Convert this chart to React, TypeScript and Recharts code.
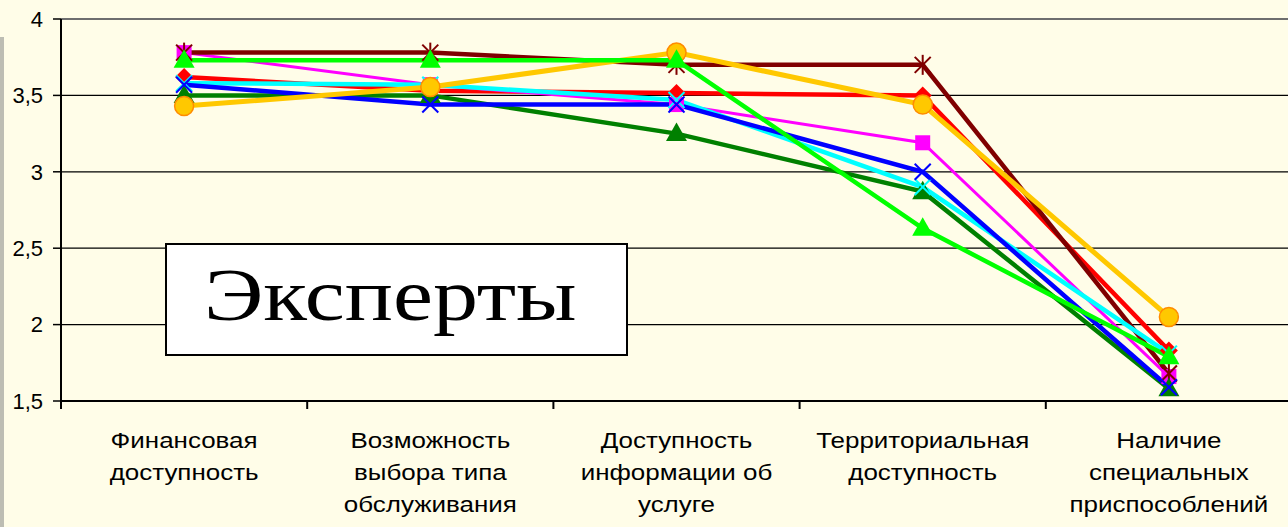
import React from "react";
import {
  LineChart,
  Line,
  XAxis,
  YAxis,
  CartesianGrid,
  ReferenceLine,
} from "recharts";

// categories (line-broken as in the picture)
const categories: string[][] = [
  ["Финансовая", "доступность"],
  ["Возможность", "выбора типа", "обслуживания"],
  ["Доступность", "информации об", "услуге"],
  ["Территориальная", "доступность"],
  ["Наличие", "специальных", "приспособлений"],
];

const maroonValues = [3.78, 3.78, 3.7, 3.7, 1.68];
const redValues = [3.62, 3.53, 3.515, 3.5, 1.83];
const magentaValues = [3.78, 3.57, 3.44, 3.19, 1.66];
const darkGreenValues = [3.5, 3.5, 3.25, 2.87, 1.58];
const cyanValues = [3.58, 3.57, 3.47, 2.9, 1.81];
const blueValues = [3.57, 3.44, 3.44, 3.0, 1.59];
const orangeValues = [3.43, 3.555, 3.78, 3.44, 2.05];
const greenValues = [3.73, 3.73, 3.73, 2.63, 1.79];

const yTicks = [1.5, 2, 2.5, 3, 3.5, 4];
const title = "Эксперты";

const data = categories.map((c, i) => ({
  name: c.join(" "),
  maroon: maroonValues[i],
  red: redValues[i],
  magenta: magentaValues[i],
  darkGreen: darkGreenValues[i],
  cyan: cyanValues[i],
  blue: blueValues[i],
  orange: orangeValues[i],
  green: greenValues[i],
}));

const W = 1300;
const H = 527;
const MARGIN = { top: 19, right: 8, left: 0, bottom: 0 };
const X_AXIS_H = 126;
const Y_AXIS_W = 61;
const BAND = (W - MARGIN.right - Y_AXIS_W) / categories.length;
const AXIS_Y = H - X_AXIS_H;
const FONT = "'Liberation Sans', Arial, sans-serif";
// the source picture is stretched sideways a little
const STRETCH = 1.18;

// marker shapes
const Square = ({ cx, cy, color }: any) => (
  <rect x={cx - 7.5} y={cy - 7.5} width={15} height={15} fill={color} />
);
const Diamond = ({ cx, cy, color }: any) => (
  <polygon
    points={`${cx},${cy - 9} ${cx + 9},${cy} ${cx},${cy + 9} ${cx - 9},${cy}`}
    fill={color}
  />
);
const Triangle = ({ cx, cy, color }: any) => (
  <polygon
    points={`${cx},${cy - 11} ${cx + 10.5},${cy + 7.5} ${cx - 10.5},${cy + 7.5}`}
    fill={color}
  />
);
const Cross = ({ cx, cy, color }: any) => (
  <g stroke={color} strokeWidth={2}>
    <line x1={cx - 8} y1={cy - 8} x2={cx + 8} y2={cy + 8} />
    <line x1={cx - 8} y1={cy + 8} x2={cx + 8} y2={cy - 8} />
  </g>
);
const Star = ({ cx, cy, color }: any) => (
  <g stroke={color} strokeWidth={2}>
    <line x1={cx - 8} y1={cy - 8} x2={cx + 8} y2={cy + 8} />
    <line x1={cx - 8} y1={cy + 8} x2={cx + 8} y2={cy - 8} />
    <line x1={cx} y1={cy - 10} x2={cx} y2={cy + 10} />
  </g>
);
const Circle = ({ cx, cy }: any) => (
  <circle cx={cx} cy={cy} r={9.5} fill="#FFC800" stroke="#FF8C00" strokeWidth={1.5} />
);

const dotOf = (Shape: any, color: string, name: string) => (p: any) =>
  <Shape key={`${name}-${p.index}`} cx={p.cx} cy={p.cy} color={color} />;

const CategoryTick = ({ x, payload }: any) => {
  const lines = categories[payload.index] || [];
  const last = payload.index === categories.length - 1;
  return (
    <g>
      <line x1={x - BAND / 2} y1={AXIS_Y} x2={x - BAND / 2} y2={AXIS_Y + 8} stroke="#000" strokeWidth={2} />
      {last && (
        <line x1={x + BAND / 2} y1={AXIS_Y} x2={x + BAND / 2} y2={AXIS_Y + 8} stroke="#000" strokeWidth={2} />
      )}
      {lines.map((t, i) => (
        <text
          key={i}
          transform={`translate(${x},${AXIS_Y + 47 + i * 32}) scale(${STRETCH},1)`}
          textAnchor="middle"
          fontSize={22}
          fontFamily={FONT}
          fill="#000"
        >
          {t}
        </text>
      ))}
    </g>
  );
};

const series = [
  { key: "red", color: "#FF0000", width: 4.5, shape: Diamond },
  { key: "magenta", color: "#FF00FF", width: 3, shape: Square },
  { key: "maroon", color: "#800000", width: 4.5, shape: Star },
  { key: "darkGreen", color: "#008000", width: 4.5, shape: Triangle },
  { key: "cyan", color: "#00FFFF", width: 4.5, shape: Cross },
  { key: "blue", color: "#0000FF", width: 4.5, shape: Cross },
  { key: "orange", color: "#FFC800", width: 5, shape: Circle },
  { key: "green", color: "#00FF00", width: 4.5, shape: Triangle },
];

export default function App() {
  return (
    <div
      style={{
        position: "absolute",
        left: 0,
        top: 0,
        width: 1288,
        height: 527,
        overflow: "hidden",
        background: "#FFFDE8",
      }}
    >
      <div
        style={{
          position: "absolute",
          left: 0,
          top: 37,
          width: 4,
          height: 490,
          background: "#BDBDB3",
        }}
      />
      <LineChart width={W} height={H} data={data} margin={MARGIN}>
        <CartesianGrid vertical={false} stroke="#000" strokeWidth={1.3} />
        <ReferenceLine y={4} stroke="#6E6E6E" strokeWidth={2} />
        <XAxis
          dataKey="name"
          interval={0}
          height={X_AXIS_H}
          padding={{ left: BAND / 2, right: BAND / 2 }}
          axisLine={{ stroke: "#000", strokeWidth: 2 }}
          tickLine={false}
          tick={<CategoryTick />}
        />
        <YAxis
          width={Y_AXIS_W}
          domain={[1.5, 4]}
          ticks={yTicks}
          interval={0}
          axisLine={{ stroke: "#000", strokeWidth: 2 }}
          tickLine={{ stroke: "#000", strokeWidth: 1.5 }}
          tickSize={8}
          tickMargin={10}
          tick={{ fill: "#000", fontSize: 22, fontFamily: FONT }}
          tickFormatter={(v: number) => String(v).replace(".", ",")}
        />
        {series.map((s) => (
          <Line
            key={s.key}
            dataKey={s.key}
            type="linear"
            stroke={s.color}
            strokeWidth={s.width}
            dot={dotOf(s.shape, s.color, s.key)}
            activeDot={false}
            isAnimationActive={false}
          />
        ))}
      </LineChart>
      <div
        style={{
          position: "absolute",
          left: 165,
          top: 243,
          width: 459,
          height: 109,
          border: "2px solid #000",
          background: "#FFFFFF",
          display: "flex",
          alignItems: "center",
          justifyContent: "center",
          fontFamily: "'Liberation Serif', 'Times New Roman', serif",
          fontSize: 75,
          lineHeight: 1,
          color: "#000",
        }}
      >
        <span
          style={{
            display: "inline-block",
            transform: `scaleX(${STRETCH + 0.02})`,
            marginRight: 13,
            marginBottom: 10,
          }}
        >
          {title}
        </span>
      </div>
    </div>
  );
}
